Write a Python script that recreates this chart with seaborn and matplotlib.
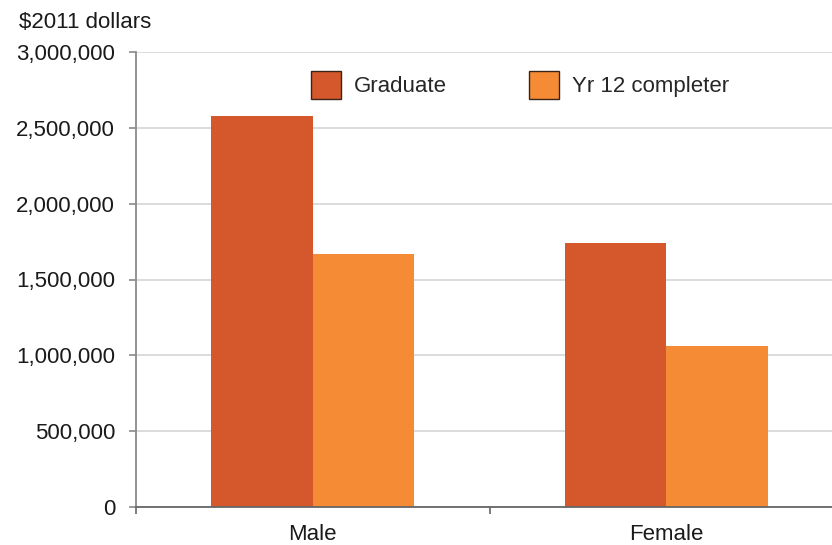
"""Lifetime earnings by sex and education level (seaborn bar chart)."""

import matplotlib

matplotlib.use("Agg")
import matplotlib.pyplot as plt
import matplotlib.ticker as mticker
from matplotlib.patches import Patch
import pandas as pd
import seaborn as sns

sexes = ["Male", "Female"]
series = ["Graduate", "Yr 12 completer"]
graduate = [2_575_000, 1_740_000]
yr12 = [1_670_000, 1_060_000]
y_ticks = [0, 500_000, 1_000_000, 1_500_000, 2_000_000, 2_500_000, 3_000_000]

_GRAD_COLOR = "#D4582B"
_YR12_COLOR = "#F58B34"

df = pd.DataFrame({
    "sex": sexes * 2,
    "series": [series[0]] * len(sexes) + [series[1]] * len(sexes),
    "value": graduate + yr12,
})

sns.set_theme(style="white")
plt.rcParams["font.family"] = ["Liberation Sans", "DejaVu Sans"]
plt.rcParams["font.size"] = 16

fig = plt.figure(figsize=(8.32, 5.45), dpi=100)
# plot area runs past the right edge of the image, like the source chart
ax = fig.add_axes([136 / 832, 38 / 545, (843 - 136) / 832, 455 / 545])

palette = {series[0]: _GRAD_COLOR, series[1]: _YR12_COLOR}
sns.barplot(
    data=df, x="sex", y="value", hue="series", order=sexes, hue_order=series,
    palette=palette, width=0.574, gap=0, saturation=1, linewidth=0, ax=ax,
)

ax.set_xlim(-0.5, 1.5)
ax.set_ylim(0, 3_000_000)
ax.set_yticks(y_ticks)
ax.yaxis.set_major_formatter(mticker.StrMethodFormatter("{x:,.0f}"))
ax.set_xlabel("")
ax.set_ylabel("")

ax.set_axisbelow(True)
ax.yaxis.grid(True, color="#d9d9d9", linewidth=1.3)
ax.xaxis.grid(False)

for side in ("top", "right"):
    ax.spines[side].set_visible(False)
ax.spines["left"].set_color("#8a8a8a")
ax.spines["left"].set_linewidth(1.3)
ax.spines["bottom"].set_color("#666666")
ax.spines["bottom"].set_linewidth(1.3)

ax.tick_params(axis="y", which="major", left=True, length=5, width=1.2,
               color="#8a8a8a", pad=10, labelsize=16, labelcolor="#1a1a1a")
ax.tick_params(axis="x", which="major", length=0, pad=12, labelsize=16,
               labelcolor="#1a1a1a")
ax.set_xticks([-0.5, 0.5, 1.5], minor=True)
ax.tick_params(axis="x", which="minor", bottom=True, length=5, width=1.2,
               color="#666666")

if ax.legend_ is not None:
    ax.legend_.remove()
handles = [
    Patch(facecolor=palette[name], edgecolor="#3a2418", linewidth=1.0, label=name)
    for name in series
]
fig.legend(
    handles=handles, loc="upper left", bbox_to_anchor=(311 / 832, 1 - 71 / 545),
    ncol=2, frameon=False, fontsize=16, handlelength=1.35, handleheight=1.56,
    handletextpad=0.6, columnspacing=3.68, borderpad=0, borderaxespad=0,
)

fig.text(19 / 832, 1 - 22 / 545, r"\$2011 dollars", fontsize=16, va="center",
         ha="left", color="#1a1a1a")

fig.savefig("out.png", dpi=100)
